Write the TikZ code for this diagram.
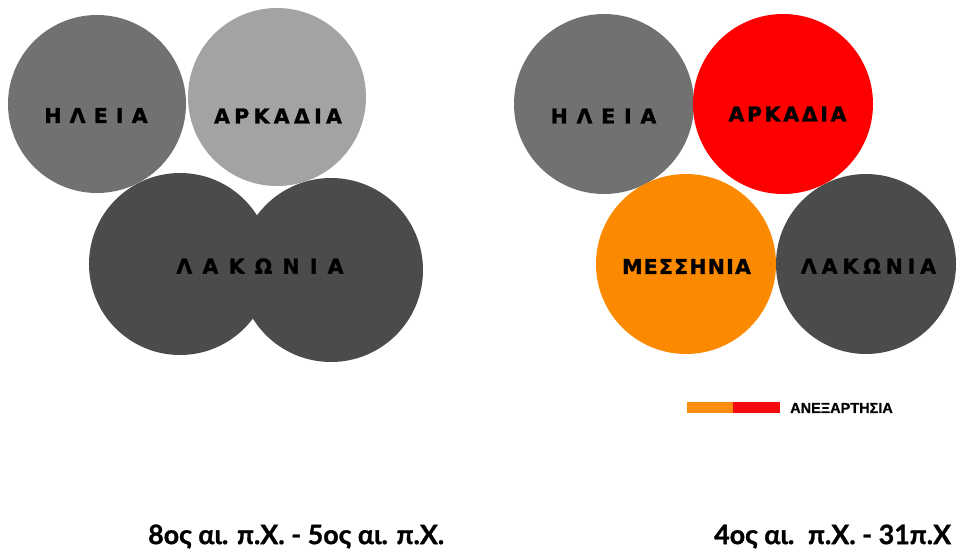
\documentclass[tikz,border=0pt]{standalone}
\usepackage{fontspec}
\usepackage{xcolor}
\newfontfamily\lblfont{DejaVu Sans Bold}[FakeBold=1.4]
\newfontfamily\keyfont{Liberation Sans Bold}[FakeBold=0.6]
\newfontfamily\datefont{Lato Bold}[FakeBold=1]
\definecolor{gm}{HTML}{707271}
\definecolor{gl}{HTML}{A2A4A3}
\definecolor{gd}{HTML}{4A4C4B}
\definecolor{kr}{HTML}{FE0000}
\definecolor{ko}{HTML}{FC8A00}
\definecolor{kbr}{HTML}{F50A10}
\definecolor{kbo}{HTML}{FA8C10}

\tikzset{
  region/.style={inner sep=0pt,text=black,
    font=\lblfont\fontsize{20.5}{20.5}\selectfont\addfontfeature{LetterSpace=#1}},
  region/.default=0,
  datum/.style={inner sep=0pt,anchor=west,text=black,
    font=\datefont\fontsize{26.8}{26.8}\selectfont}
}

\begin{document}
\begin{tikzpicture}[x=1pt,y=-1pt]
  \fill[white] (0,0) rectangle (956,554);

  % Left map: 8th - 5th century
  \foreach \x/\y/\r/\c in {97/104/89/gm, 277/97/89/gl, 180/264/91/gd, 331/270/92/gd} {
    \fill[\c] (\x,\y) circle (\r);
  }
  \node[region=40] (ileiaA) at (96,115.5) {ΗΛΕΙΑ};
  \node[region=21] (arkadiaA) at (278,116) {ΑΡΚΑΔΙΑ};
  \node[region=50] (lakoniaA) at (260,266) {ΛΑΚΩΝΙΑ};

  % Right map: 4th century - 31 BC
  \foreach \x/\y/\c in {604/104/gm, 783/104/kr, 686/264/ko, 866/264/gd} {
    \fill[\c] (\x,\y) circle (90);
  }
  \node[region=43] (ileiaB) at (603.5,116) {ΗΛΕΙΑ};
  \node[region=13] (arkadiaB) at (787.5,114) {ΑΡΚΑΔΙΑ};
  \node[region=6] (messiniaB) at (686.5,266.5) {ΜΕΣΣΗΝΙΑ};
  \node[region=24] (lakoniaB) at (868.5,266) {ΛΑΚΩΝΙΑ};

  % Key
  \fill[kbo] (687,402) rectangle (733,413);
  \fill[kbr] (733,402) rectangle (780,413);
  \node[inner sep=0pt,anchor=west,font=\keyfont\fontsize{14.5}{14.5}\selectfont]
    (key) at (790,408) {ΑΝΕΞΑΡΤΗΣΙΑ};

  % Dates
  \node[datum] (dateA) at (148,536.5) {8ος αι. π.Χ. - 5ος αι. π.Χ.};
  \node[datum] (dateB) at (714,536.5) {4ος αι.\hspace{5pt} π.Χ. - 31π.Χ};
\end{tikzpicture}
\end{document}
